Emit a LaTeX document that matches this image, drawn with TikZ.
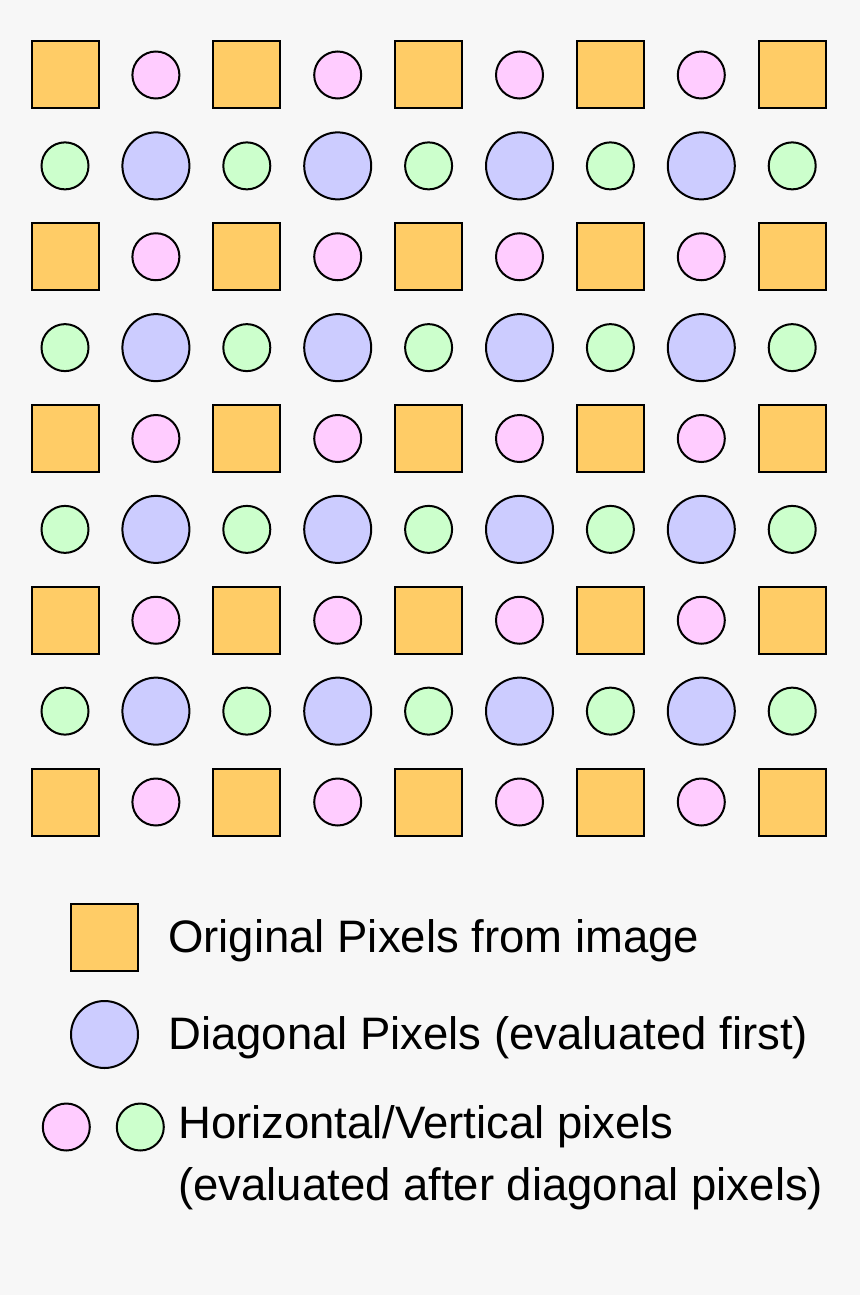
\documentclass[tikz,border=0pt]{standalone}
\usepackage{fontspec}
\setmainfont{Liberation Sans}
\definecolor{bg}{HTML}{F7F7F7}
\definecolor{orig}{HTML}{FFCC66}
\definecolor{diag}{HTML}{CCCCFF}
\definecolor{hpix}{HTML}{FFCCFF}
\definecolor{vpix}{HTML}{CCFFCC}
\begin{document}
\begin{tikzpicture}[x=1pt,y=-1pt,
  px/.style={draw=black,line width=2pt,inner sep=0pt,outer sep=0pt},
  origbox/.style={px,rectangle,fill=orig,minimum width=67pt,minimum height=67pt},
  diagdot/.style={px,circle,fill=diag,minimum size=67pt},
  hdot/.style={px,circle,fill=hpix,minimum size=47pt},
  vdot/.style={px,circle,fill=vpix,minimum size=47pt},
  lbl/.style={anchor=base west,inner sep=0pt,font=\fontsize{45.5}{54}\selectfont}]
\fill[bg] (0,0) rectangle (860,1295);
\useasboundingbox (0,0) rectangle (860,1295);
\foreach \r in {0,...,8}{
  \foreach \c in {0,...,8}{
    \pgfmathsetmacro{\xx}{65+90.9*\c}
    \pgfmathsetmacro{\yy}{75+90.875*\r}
    \pgfmathtruncatemacro{\re}{mod(\r,2)}
    \pgfmathtruncatemacro{\ce}{mod(\c,2)}
    \ifnum\re=0
      \ifnum\ce=0
        \node[origbox] (p-\r-\c) at (\xx,\yy) {};
      \else
        \node[hdot] (p-\r-\c) at (\xx,\yy) {};
      \fi
    \else
      \ifnum\ce=0
        \node[vdot] (p-\r-\c) at (\xx,\yy) {};
      \else
        \node[diagdot] (p-\r-\c) at (\xx,\yy) {};
      \fi
    \fi
  }
}
% legend
\node[origbox] (lo) at (104.5,937.5) {};
\node[lbl] (lot) at (168,952) {Original Pixels from image};
\node[diagdot] (ld) at (104.5,1034.5) {};
\node[lbl] (ldt) at (168,1049) {Diagonal Pixels (evaluated first)};
\node[hdot] (lh) at (66.3,1127) {};
\node[vdot] (lv) at (140.3,1127) {};
\node[lbl] (lht) at (178,1138) {Horizontal/Vertical pixels};
\node[lbl] (lht2) at (178,1200) {(evaluated after diagonal pixels)};
\end{tikzpicture}
\end{document}
